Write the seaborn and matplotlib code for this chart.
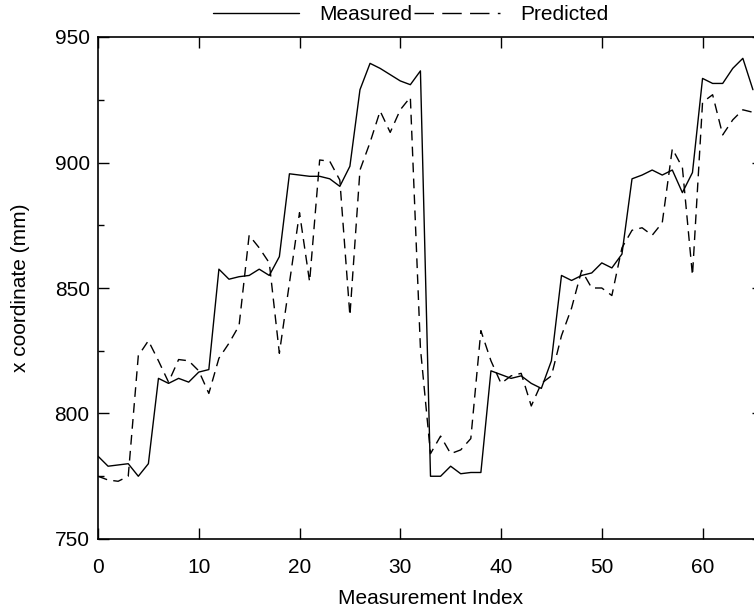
"""
Measured vs predicted x coordinate per measurement index.
"""
# Third-party
import matplotlib

matplotlib.use("Agg")
import matplotlib.pyplot as plt  # noqa: E402
import pandas as pd  # noqa: E402
import seaborn as sns  # noqa: E402
from matplotlib.lines import Line2D  # noqa: E402
from matplotlib.ticker import MultipleLocator  # noqa: E402

# Data
index = list(range(66))
measured = [
    783, 779, 779.5, 780, 775, 780, 814, 812, 814, 812.5,
    816.5, 817.5, 857.5, 853.5, 854.5, 855, 857.5, 855, 862.5, 895.5,
    895, 894.5, 894.5, 893.5, 890.5, 898.5, 929, 939.5, 937.5, 935,
    932.5, 931, 936.5, 775, 775, 779, 776, 776.5, 776.5, 817,
    815.5, 814, 815, 812, 810, 821, 855, 853, 855, 856,
    860, 858, 863.5, 893.5, 895, 897, 895, 897, 888, 896,
    933.5, 931.5, 931.5, 937.5, 941.5, 929,
]
predicted = [
    775, 773.5, 773, 775, 823, 829, 821, 812.5, 821.5, 821,
    817, 808, 822, 828, 835, 871, 866, 860, 824, 852,
    880, 852.5, 901, 900.5, 893, 839, 897, 908, 920.5, 912,
    921, 926, 826, 784, 791, 784, 785.5, 790, 833, 821,
    812, 815, 816, 803, 812, 815, 831, 842, 857, 850,
    850, 847, 866, 873, 874, 871, 876, 905.5, 898, 855,
    924, 927, 911, 917, 921, 920,
]
series_names = ["Measured", "Predicted"]
x_ticks = [0, 10, 20, 30, 40, 50, 60]
y_ticks = [750, 800, 850, 900, 950]

DASH = (0, (7, 4.5))
FONT_SIZE = 15

sns.set_style(
    "ticks",
    {
        "axes.edgecolor": "black",
        "text.color": "black",
        "axes.labelcolor": "black",
        "xtick.color": "black",
        "ytick.color": "black",
    },
)
plt.rcParams["font.family"] = ["Liberation Sans", "DejaVu Sans"]
plt.rcParams["font.size"] = FONT_SIZE

data = pd.DataFrame(
    {"Index": index, series_names[0]: measured, series_names[1]: predicted}
)

fig = plt.figure(figsize=(7.54, 6.12), dpi=100)
# right spine sits just past the image edge, as in the reference
ax = fig.add_axes([98 / 754, 73 / 612, 665 / 754, 502 / 612])

sns.lineplot(
    data, x="Index", y=series_names[0], ax=ax, color="black", linewidth=1.0
)
sns.lineplot(
    data,
    x="Index",
    y=series_names[1],
    ax=ax,
    color="black",
    linewidth=1.0,
    linestyle=DASH,
)

ax.set_xlim(0, 66)
ax.set_ylim(750, 950)
ax.set_xticks(x_ticks)
ax.set_yticks(y_ticks)
ax.yaxis.set_minor_locator(MultipleLocator(25))
ax.tick_params(
    which="major", direction="in", length=8, width=1,
    top=True, right=True, labelsize=FONT_SIZE,
)
ax.tick_params(axis="x", which="major", pad=14)
ax.tick_params(axis="y", which="major", pad=6)
ax.tick_params(
    which="minor", direction="in", length=4.5, width=1, right=True
)
for spine in ax.spines.values():
    spine.set_linewidth(1.2)

ax.set_xlabel("Measurement Index", fontsize=FONT_SIZE, labelpad=8)
ax.set_ylabel("x coordinate (mm)", fontsize=FONT_SIZE, labelpad=18)

handles = [
    Line2D([], [], color="black", linewidth=1.0),
    Line2D([], [], color="black", linewidth=1.0, linestyle=(0, (14, 6))),
]
fig.legend(
    handles,
    series_names,
    loc="center",
    bbox_to_anchor=(411 / 754, 1 - 15 / 612),
    ncol=2,
    frameon=False,
    fontsize=FONT_SIZE,
    handlelength=4.1,
    handletextpad=1.0,
    columnspacing=0.1,
)

fig.savefig("out.png", dpi=100)
